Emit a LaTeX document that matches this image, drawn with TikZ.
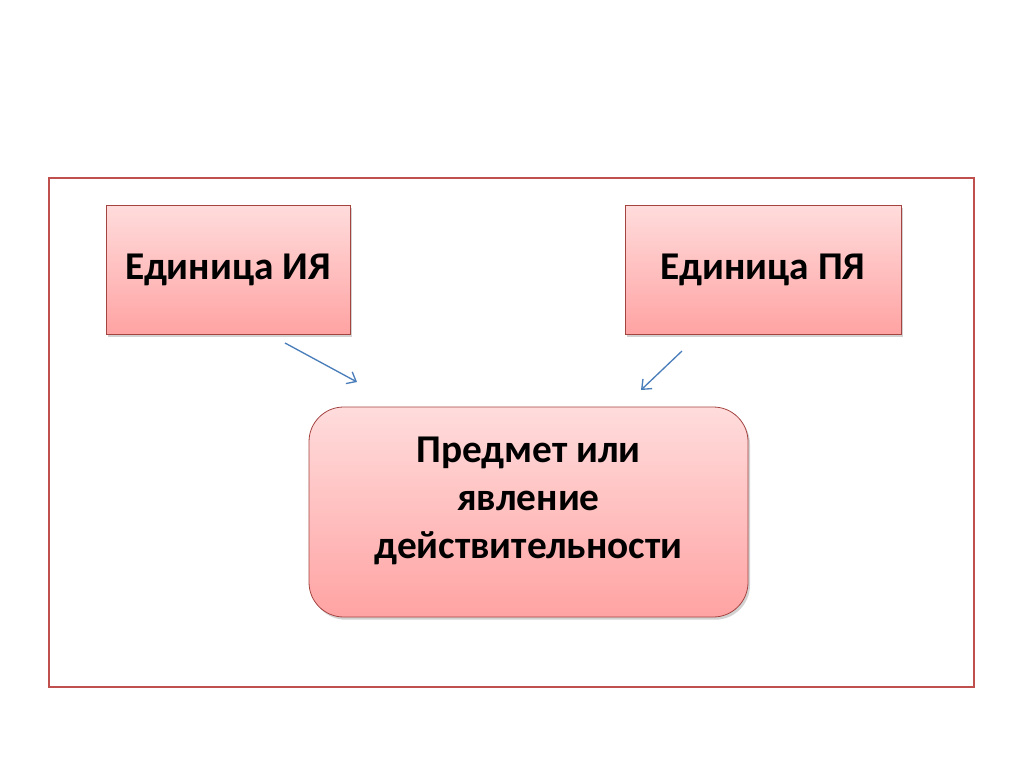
\documentclass[tikz,border=0pt]{standalone}
\usepackage{fontspec}
\setmainfont{Carlito}
\usetikzlibrary{shadows,arrows.meta}
\definecolor{frame}{HTML}{C0504D}
\definecolor{boxtop}{HTML}{FFDCDC}
\definecolor{boxbot}{HTML}{FFA3A3}
\definecolor{arr}{HTML}{4A7EBB}
\tikzset{
  every picture/.style={x=0.75pt,y=-0.75pt},
  pinkbox/.style={draw=frame!85!black, line width=0.6pt, top color=boxtop, bottom color=boxbot,
    drop shadow={shadow xshift=1.5pt, shadow yshift=-2pt, fill=black!35, opacity=0.5},
    font=\bfseries\fontsize{29.5pt}{36pt}\selectfont, align=center, inner sep=0pt},
  conn/.style={draw=arr, line width=1pt, -{Straight Barb[length=6pt,width=10pt]}},
}
\begin{document}
\begin{tikzpicture}
\useasboundingbox[fill=white] (0,0) rectangle (1024,767);
\draw[frame, line width=1.6pt] (49,178) rectangle (974,687);
\node[pinkbox, minimum width=244*0.75pt, minimum height=129*0.75pt] (ia) at (228,269.5) {Единица ИЯ};
\node[pinkbox, minimum width=276*0.75pt, minimum height=129*0.75pt] (pa) at (763,269.5) {Единица ПЯ};
\node[pinkbox, rounded corners=26pt, text depth=21pt, minimum width=439*0.75pt, minimum height=210*0.75pt] (pr) at (528.5,512) {Предмет или\\явление\\действительности};
\coordinate (a1s) at (285,343);
\coordinate (a1e) at (357,382);
\coordinate (a2s) at (682,351);
\coordinate (a2e) at (641,390);
\draw[conn] (a1s) -- (a1e);
\draw[conn] (a2s) -- (a2e);
\end{tikzpicture}
\end{document}
